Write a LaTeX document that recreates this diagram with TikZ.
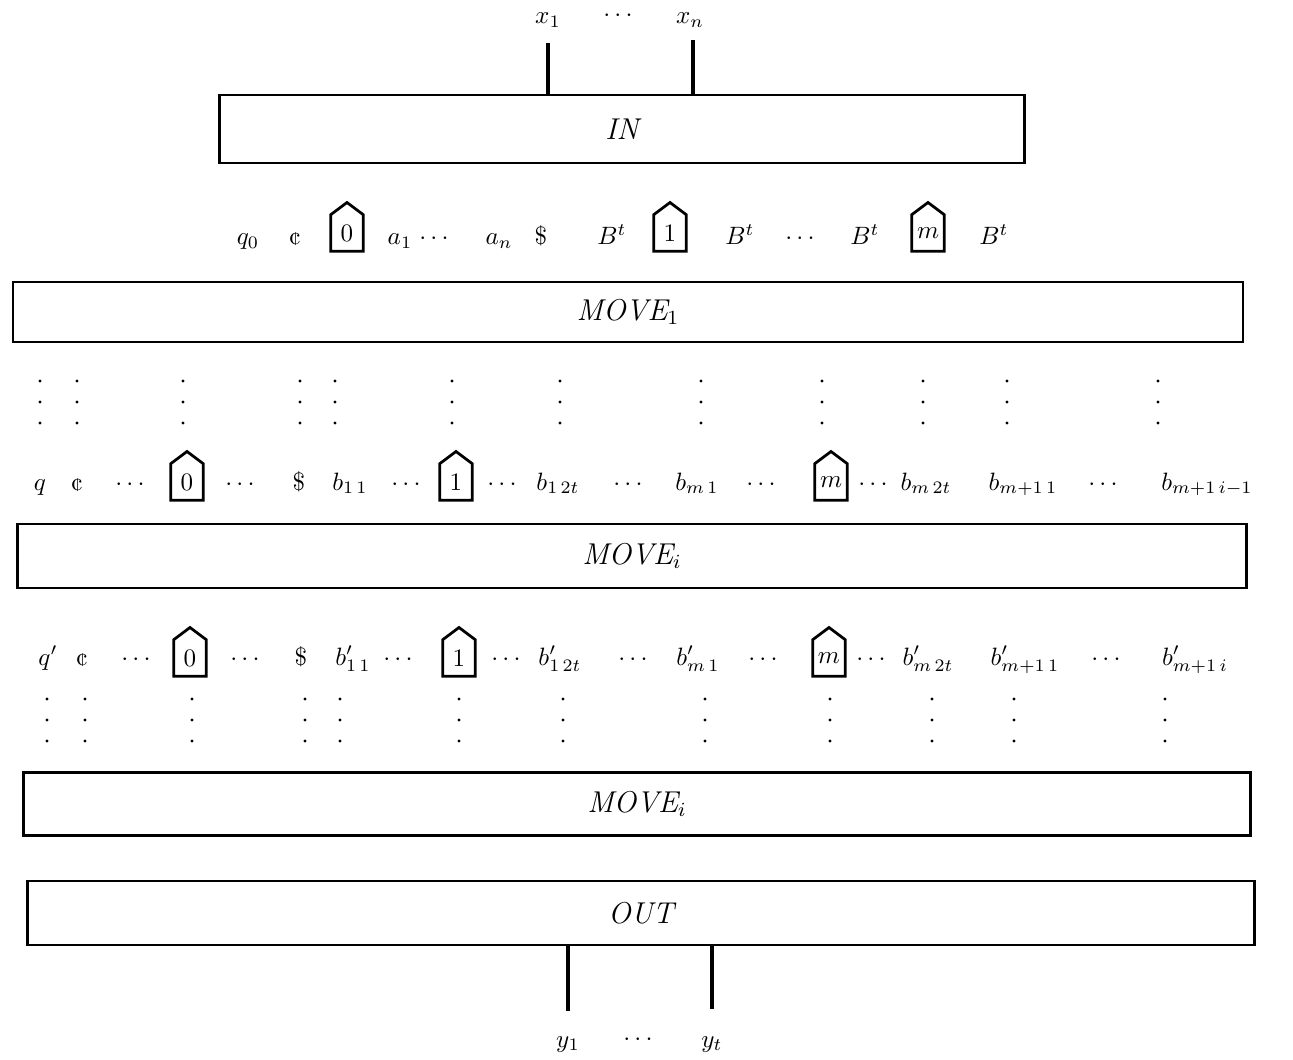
\documentclass[tikz,border=0pt]{standalone}
\usepackage{fontspec}
\usepackage{amsmath}
\usetikzlibrary{positioning,calc}
\begin{document}
\begin{tikzpicture}[
    x=0.014cm, y=-0.014cm,
    box/.style={rectangle, draw, line width=1pt, inner sep=0pt, font=\large},
    cell/.style={rectangle, minimum width=0.44cm, minimum height=0.5cm, inner sep=0pt},
    house/.style={line width=1.1pt, line join=miter},
    wire/.style={line width=1.6pt},
    sym/.style={anchor=base, inner sep=1pt},
    vdots/.style={line width=1.3pt, line cap=round, dash pattern=on 0pt off 0.294cm}
]
\useasboundingbox (0,0) rectangle (1293,1059);

% the circuit blocks
\node[box, minimum width=11.27cm, minimum height=0.95cm] (in) at (622,129) {$\mathit{IN}$};
\node[box, minimum width=17.23cm, minimum height=0.84cm] (move1) at (628,312) {$\mathit{MOVE}_1$};
\node[box, minimum width=17.21cm, minimum height=0.9cm] (movei) at (632,556) {$\mathit{MOVE}_i$};
\node[box, minimum width=17.18cm, minimum height=0.88cm] (movej) at (637,804) {$\mathit{MOVE}_i$};
\node[box, minimum width=17.19cm, minimum height=0.89cm] (out) at (641,913) {$\mathit{OUT}$};

% inputs and outputs
\node[sym] (x1) at (548,24) {$x_1$};
\node[sym] (xd) at (620,22) {$\cdots$};
\node[sym] (xn) at (690,24) {$x_n$};
\node[sym] (y1) at (568,1047) {$y_1$};
\node[sym] (yd) at (640,1045) {$\cdots$};
\node[sym] (yt) at (712,1047) {$y_t$};
\draw[wire] ([yshift=-2.6mm]x1.base) -- (x1.base |- in.north);
\draw[wire] ([xshift=0.4mm, yshift=-2.3mm]xn.base) -- ([xshift=0.4mm]xn.base |- in.north);
\draw[wire] (y1.base |- out.south) -- ([yshift=5mm]y1.base);
\draw[wire] (yt.base |- out.south) -- ([yshift=5.3mm]yt.base);

% first tape contents
\node[sym] (q0) at (248,245) {$q_0$};
\node[sym] (ca) at (295,245) {¢};
\node[cell] (h0a) at (347,233) {0};
\node[sym] (a1) at (400,245) {$a_1$};
\node[sym] (da1) at (436,245) {$\cdots$};
\node[sym] (an) at (499,245) {$a_n$};
\node[sym] (sa) at (541,245) {\$};
\node[sym] (ba1) at (612,245) {$B^t$};
\node[cell] (h1a) at (670,233) {1};
\node[sym] (ba2) at (740,245) {$B^t$};
\node[sym] (da2) at (802,245) {$\cdots$};
\node[sym] (ba3) at (865,245) {$B^t$};
\node[cell] (hma) at (928,233) {$m$};
\node[sym] (ba4) at (994,245) {$B^t$};

% tape before step i
\node[sym] (qb) at (40,490) {$q$};
\node[sym] (cb) at (77,490) {¢};
\node[sym] (db1) at (132,490) {$\cdots$};
\node[cell] (h0b) at (187,482) {0};
\node[sym] (db2) at (242,490) {$\cdots$};
\node[sym] (sb) at (299,490) {\$};
\node[sym] (b11) at (350,490) {$b_{1\,1}$};
\node[sym] (db3) at (408,490) {$\cdots$};
\node[cell] (h1b) at (456,482) {1};
\node[sym] (db4) at (504,490) {$\cdots$};
\node[sym] (b12) at (558,490) {$b_{1\,2t}$};
\node[sym] (db5) at (630,490) {$\cdots$};
\node[sym] (bm1) at (697,490) {$b_{m\,1}$};
\node[sym] (db6) at (763,490) {$\cdots$};
\node[cell] (hmb) at (831,482) {$m$};
\node[sym] (db7) at (875,490) {$\cdots$};
\node[sym] (bm2) at (926,490) {$b_{m\,2t}$};
\node[sym] (bn1) at (1023,490) {$b_{m+1\,1}$};
\node[sym] (db8) at (1105,490) {$\cdots$};
\node[sym] (bni) at (1207,490) {$b_{m+1\,i-1}$};

% tape after step i
\node[sym] (qc) at (48,665) {$q'$};
\node[sym] (cc) at (82,665) {¢};
\node[sym] (dc1) at (138,665) {$\cdots$};
\node[cell] (h0c) at (190,658) {0};
\node[sym] (dc2) at (247,665) {$\cdots$};
\node[sym] (sc) at (301,665) {\$};
\node[sym] (c11) at (353,665) {$b'_{1\,1}$};
\node[sym] (dc3) at (400,665) {$\cdots$};
\node[cell] (h1c) at (459,658) {1};
\node[sym] (dc4) at (508,665) {$\cdots$};
\node[sym] (c12) at (560,665) {$b'_{1\,2t}$};
\node[sym] (dc5) at (635,665) {$\cdots$};
\node[sym] (cm1) at (698,665) {$b'_{m\,1}$};
\node[sym] (dc6) at (765,665) {$\cdots$};
\node[cell] (hmc) at (829,658) {$m$};
\node[sym] (dc7) at (873,665) {$\cdots$};
\node[sym] (cm2) at (928,665) {$b'_{m\,2t}$};
\node[sym] (cn1) at (1025,665) {$b'_{m+1\,1}$};
\node[sym] (dc8) at (1108,665) {$\cdots$};
\node[sym] (cni) at (1195,665) {$b'_{m+1\,i}$};

% head markers
\foreach \c in {h0a,h1a,hma,h0b,h1b,hmb,h0c,h1c,hmc}
  \draw[house] (\c.south west) -- (\c.north west) -- ([yshift=0.17cm]\c.north) -- (\c.north east) -- (\c.south east) -- cycle;

% vertical dots between the stages
\foreach \x in {40,77,183,300,335,452,560,701,822,923,1007,1158}
  \draw[vdots] (\x,381) -- (\x,423.5);
\foreach \x in {47,85,192,305,340,459,563,705,830,932,1014,1165}
  \draw[vdots] (\x,699) -- (\x,741.5);
\end{tikzpicture}
\end{document}
